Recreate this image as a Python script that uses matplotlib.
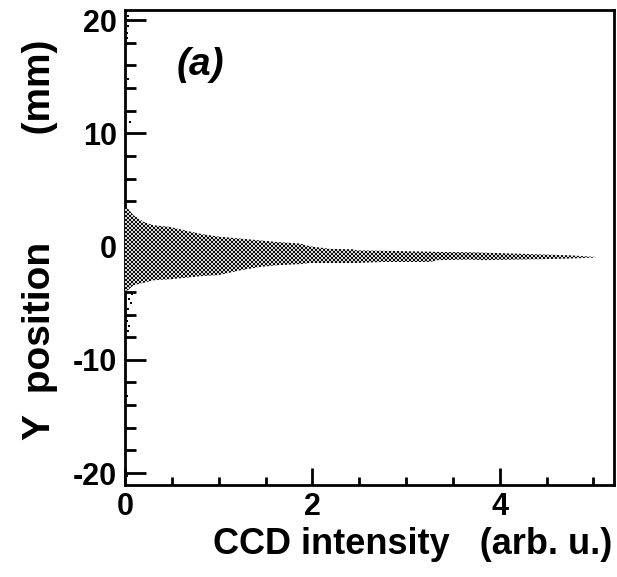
import numpy as np
import matplotlib
matplotlib.use("Agg")
import matplotlib.pyplot as plt
from matplotlib.path import Path
from matplotlib.patches import PathPatch
from matplotlib.ticker import MultipleLocator, FuncFormatter

# Envelope of the beam profile: for each CCD intensity, the y-range it occupies
intensity = [0.0, 0.03, 0.09, 0.20, 0.30, 0.48, 0.66, 0.83, 1.00, 1.23, 1.44,
             1.62, 1.87, 1.97, 2.19, 2.44, 2.47, 2.74, 2.83, 3.26, 3.33, 3.68,
             3.82, 4.39, 4.75, 5.02]
y_upper = [3.5, 3.36, 2.77, 2.18, 1.89, 1.74, 1.39, 1.09, 0.88, 0.71, 0.55,
           0.41, 0.27, 0.03, -0.20, -0.24, -0.33, -0.37, -0.38, -0.45, -0.47,
           -0.50, -0.53, -0.68, -0.77, -0.91]
y_lower = [-3.9, -3.86, -3.42, -3.2, -2.98, -2.89, -2.74, -2.6, -2.52, -2.1,
           -1.8, -1.65, -1.55, -1.45, -1.45, -1.45, -1.45, -1.36, -1.36, -1.36,
           -1.2, -1.15, -1.2, -1.12, -1.06, -0.97]

# Sparse low-intensity hits away from the core
stray_x = [0.02, 0.03, 0.02, 0.03, 0.02, 0.02, 0.03, 0.05, 0.08, 0.04, 0.06,
           0.03, 0.05, 0.02, 0.04, 0.03, 0.02, 0.03, 0.02]
stray_y = [20.8, 20.4, 20.0, 19.5, 18.9, 18.4, 14.8, 11.0, -4.2, -4.6, -5.0,
           -5.5, -6.1, -6.6, -7.0, -7.5, -13.2, -16.0, -20.3]

x_ticks = [0, 2, 4]
y_ticks = [-20, -10, 0, 10, 20]

W, H = 617, 577
fig = plt.figure(figsize=(W / 100, H / 100), dpi=100)
ax_l, ax_b, ax_w, ax_h = 125, 92, 489, 475
ax = fig.add_axes([ax_l / W, ax_b / H, ax_w / W, ax_h / H])

xlim = (0, 5.22)
ylim = (-21.06, 20.9)
ax.set_xlim(*xlim)
ax.set_ylim(*ylim)

# Closed outline of the filled region
verts = list(zip(intensity, y_upper)) + list(zip(intensity[::-1], y_lower[::-1]))
verts.append(verts[0])
codes = [Path.MOVETO] + [Path.LINETO] * (len(verts) - 2) + [Path.CLOSEPOLY]
outline = PathPatch(Path(verts, codes), transform=ax.transData,
                    facecolor="none", edgecolor="none")
ax.add_patch(outline)

# Pixel-exact checker texture (2x2 pixel cells), clipped to the outline
yy, xx = np.mgrid[0:ax_h, 0:ax_w]
tex = np.where((xx // 2 + yy // 2) % 2 == 0, 0.05, 0.85)
im = fig.figimage(tex, xo=ax_l, yo=ax_b, cmap="gray", vmin=0, vmax=1,
                  origin="lower", zorder=2)
im.set_clip_path(outline)

ax.scatter(stray_x, stray_y, s=2.5, marker="s", color="black", linewidths=0,
           zorder=3)

# Axes styling
for sp in ax.spines.values():
    sp.set_linewidth(2)
    sp.set_zorder(4)
ax.set_xticks(x_ticks)
ax.set_yticks(y_ticks)
ax.xaxis.set_minor_locator(MultipleLocator(0.5))
ax.yaxis.set_minor_locator(MultipleLocator(2))
hyphen = FuncFormatter(lambda v, _: f"{v:g}".replace("\u2212", "-"))
ax.xaxis.set_major_formatter(hyphen)
ax.yaxis.set_major_formatter(hyphen)
ax.tick_params(axis="both", which="both", direction="in", width=2,
               top=False, right=False)
ax.tick_params(axis="x", which="major", length=12, pad=5)
ax.tick_params(axis="x", which="minor", length=6)
ax.tick_params(axis="y", which="major", length=15, pad=6)
ax.tick_params(axis="y", which="minor", length=8)

font = "Liberation Sans"
for lab in ax.get_xticklabels() + ax.get_yticklabels():
    lab.set_fontfamily(font)
    lab.set_fontweight("bold")
    lab.set_fontsize(22)

fig.text(612 / W, 1 - 545 / H, "CCD intensity   (arb. u.)", ha="right",
         va="center", fontsize=26, fontweight="bold", family=font)
fig.text(40 / W, 1 - 40 / H, "Y  position          (mm)", ha="center",
         va="top", rotation=90, fontsize=28, fontweight="bold", family=font)
ax.text(0.8, 16, "(a)", ha="center", va="center", fontsize=28,
        fontweight="bold", fontstyle="italic", family=font)

fig.savefig("out.png", dpi=100)
